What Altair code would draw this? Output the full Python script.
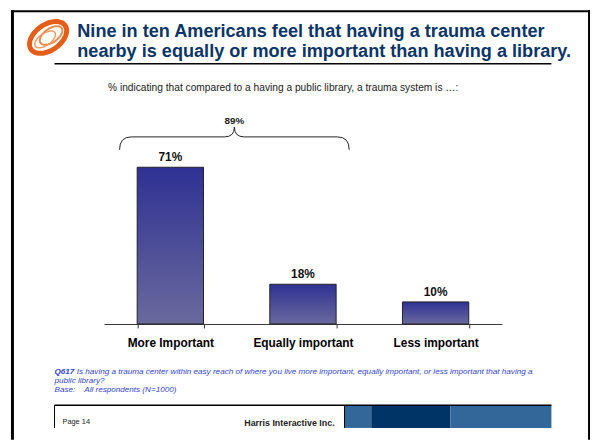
import math
import altair as alt
import pandas as pd

# ---- data ----
categories = ["More Important", "Equally important", "Less important"]
values = [71, 18, 10]
labels = ["71%", "18%", "10%"]
combined_label = "89%"

title_lines = [
    "Nine in ten Americans feel that having a trauma center",
    "nearby is equally or more important than having a library.",
]
subtitle = "% indicating that compared to a having a public library, a trauma system is \u2026:"
note_q = "Q617"
note_line1 = "Is having a trauma center within easy reach of where you live more important, equally important, or less important that having a"
note_line2 = "public library?"
note_base = "Base:"
note_base_text = "All respondents (N=1000)"
page_label = "Page 14"
company = "Harris Interactive Inc."

df = pd.DataFrame({"cat": categories, "val": values, "lab": labels})

W, H = 590, 434
FONT = "Liberation Sans"
one = alt.Data(values=[{"a": 1}])

x_enc = alt.X("cat:N", sort=categories,
              scale=alt.Scale(range=[97, 499], paddingInner=0.5, paddingOuter=0.25),
              axis=alt.Axis(title=None, orient="bottom", offset=-117, labelAngle=0,
                            tickBand="extent", tickSize=4, tickColor="#333",
                            domainColor="#333", domainWidth=1, labelPadding=10,
                            labelFont=FONT, labelFontSize=12, labelFontWeight="bold",
                            labelColor="#000", grid=False))
y_enc = alt.Y("val:Q", scale=alt.Scale(domain=[0, 100], range=[317, 94], nice=False, zero=True),
              axis=None)

grad = alt.Gradient(gradient="linear",
                    stops=[alt.GradientStop(color="#2f3193", offset=0),
                           alt.GradientStop(color="#6a699d", offset=1)],
                    x1=0, x2=0, y1=0, y2=1)

bars = alt.Chart(df).mark_bar(color=grad, stroke="#222", strokeWidth=1).encode(x=x_enc, y=y_enc)
bar_text = alt.Chart(df).mark_text(dy=-6, baseline="alphabetic", font=FONT, fontSize=12,
                                   fontWeight="bold", color="#111").encode(
    x=alt.X("cat:N", sort=categories), y="val:Q", text="lab:N")


def rule(x1, y1, x2, y2, color="#000", w=1.0):
    return alt.Chart(one).mark_rule(color=color, strokeWidth=w).encode(
        x=alt.value(x1), x2=alt.value(x2), y=alt.value(y1), y2=alt.value(y2))


def rect(x1, y1, x2, y2, color):
    return alt.Chart(one).mark_rect(color=color).encode(
        x=alt.value(x1), x2=alt.value(x2), y=alt.value(y1), y2=alt.value(y2))


def text(s, x, y, size, weight="normal", style="normal", color="#000", align="left",
         baseline="alphabetic"):
    return alt.Chart(one).mark_text(text=s, font=FONT, fontSize=size, fontWeight=weight,
                                    fontStyle=style, color=color, align=align,
                                    baseline=baseline).encode(x=alt.value(x), y=alt.value(y))


def ellipse_path(cx, cy, rx, ry, ang, s, n=60):
    a = math.radians(ang)
    pts = []
    for i in range(n):
        t = 2 * math.pi * i / n
        ex, ey = rx * math.cos(t), ry * math.sin(t)
        px = cx + ex * math.cos(a) - ey * math.sin(a)
        py = cy - (ex * math.sin(a) + ey * math.cos(a))
        pts.append(f"{px / s:.3f} {py / s:.3f}")
    return "M " + " L ".join(pts) + " Z"


S_LOGO = 25
logo1 = alt.Chart(one).mark_point(shape=ellipse_path(0, 0, 21, 13, 35, S_LOGO), filled=False,
                                  stroke="#e55d17", strokeWidth=5, opacity=1,
                                  size=(2 * S_LOGO) ** 2).encode(x=alt.value(40.5), y=alt.value(27.5))
logo2 = alt.Chart(one).mark_point(shape=ellipse_path(3, -2, 13, 7, 35, S_LOGO), filled=False,
                                  stroke="#ef8a4a", strokeWidth=2, opacity=1,
                                  size=(2 * S_LOGO) ** 2).encode(x=alt.value(40.5), y=alt.value(27.5))
logo3 = alt.Chart(one).mark_point(shape=ellipse_path(-3, 2, 12, 6, 35, S_LOGO), filled=False,
                                  stroke="#f29a60", strokeWidth=1.5, opacity=1,
                                  size=(2 * S_LOGO) ** 2).encode(x=alt.value(40.5), y=alt.value(27.5))

brace_path = ("M -1 0.099 Q -1 -0.013 -0.897 -0.013 L -0.086 -0.013 Q 0 -0.013 0 -0.099 "
              "Q 0 -0.013 0.086 -0.013 L 0.897 -0.013 Q 1 -0.013 1 0.099")
brace = alt.Chart(one).mark_point(shape=brace_path, filled=False, stroke="#222", strokeWidth=1,
                                  opacity=1, size=232 ** 2).encode(x=alt.value(228.7), y=alt.value(129.5))

NOTE_FS = 8.2
layers = [
    # frame
    rule(4.5, 0, 4.5, H, w=3),
    rule(587, 0, 587, H, w=2),
    rule(3, 1, 588, 1, w=2),
    logo1, logo2, logo3,
    text(title_lines[0], 70, 27, 18.3, weight="bold", color="#0b3566"),
    text(title_lines[1], 70, 47, 18.3, weight="bold", color="#0b3566"),
    rule(47, 54, 549, 54, w=1.5),
    text(subtitle, 278, 79, 10.3, color="#222", align="center", baseline="middle"),
    bars, bar_text,
    brace,
    text(combined_label, 228.7, 115, 10, weight="bold", color="#222", align="center"),
    text(note_q, 47, 367.5, NOTE_FS, weight="bold", style="italic", color="#3344cc"),
    text(note_line1, 69.5, 367.5, NOTE_FS, style="italic", color="#3344cc"),
    text(note_line2, 47, 376.5, NOTE_FS, style="italic", color="#3344cc"),
    text(note_base, 47, 385.5, NOTE_FS, style="italic", color="#3344cc"),
    text(note_base_text, 77, 385.5, NOTE_FS, style="italic", color="#3344cc"),
    rect(340, 399, 367, 422, "#336699"),
    rect(367, 399, 447, 422, "#003366"),
    rect(447, 399, 549, 422, "#336699"),
    rule(47, 399, 549, 399, w=1.5),
    rule(47, 399, 47, 422, w=1),
    rule(340, 399, 340, 422, w=1),
    text(page_label, 55, 416, 7.5, color="#222", baseline="middle"),
    text(company, 330, 417, 9, weight="bold", color="#222", align="right", baseline="middle"),
]

chart = alt.layer(*layers).properties(
    width=W, height=H, padding=0, autosize=alt.AutoSizeParams(type="none")
).configure_view(stroke=None)

chart.save("out.html", embed_options={"renderer": "svg", "actions": False})
